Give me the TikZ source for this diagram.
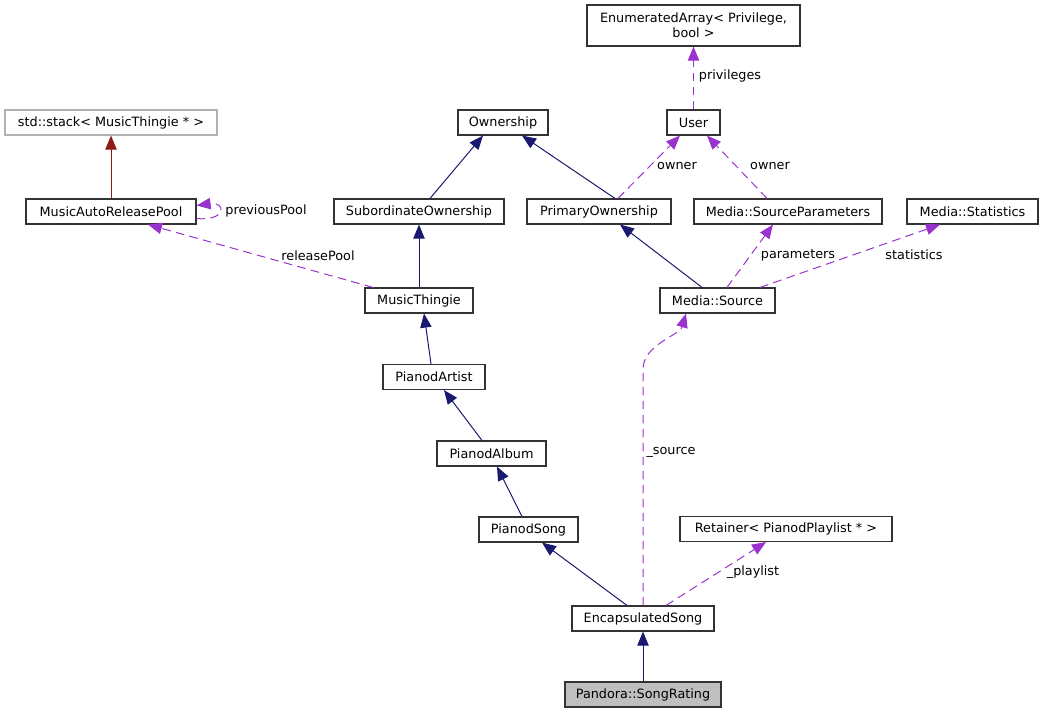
\documentclass[tikz,border=0pt]{standalone}
\usepackage{fontspec}
\setmainfont{DejaVu Sans}
\usetikzlibrary{arrows.meta,calc}
\definecolor{navyc}{HTML}{191970}
\definecolor{redc}{HTML}{8B1A1A}
\definecolor{purc}{HTML}{9A32CD}
\definecolor{boxc}{HTML}{333333}
\tikzset{
  cls/.style={draw=boxc,line width=0.85pt,fill=white,inner sep=0pt,minimum height=25*0.75pt,font=\fontsize{9.6pt}{11.3pt}\selectfont,align=center},
  extcls/.style={cls,draw=black!30},
  curcls/.style={cls,fill=black!25},
  tip/.style={-{Triangle[length=10.5pt,width=8.5pt]}},
  inh/.style={navyc,line width=0.75pt,tip},
  inhred/.style={redc,line width=0.75pt,tip},
  use/.style={purc,line width=0.75pt,dash pattern=on 6.5pt off 4pt,tip},
  lbl/.style={font=\fontsize{9.6pt}{11.3pt}\selectfont,inner sep=0pt}
}
\begin{document}
\begin{tikzpicture}[x=0.75pt,y=-0.75pt]
\useasboundingbox (0,0) rectangle (1043,713);
% nodes
\node[extcls,minimum width=212*0.75pt] (stack) at (111,122.5) {std::stack< MusicThingie * >};
\node[cls,minimum width=170*0.75pt] (pool) at (111,211.5) {MusicAutoReleasePool};
\node[cls,minimum width=213*0.75pt,minimum height=41*0.75pt] (enum) at (693.5,25.5) {EnumeratedArray< Privilege,\\bool >};
\node[cls,minimum width=53*0.75pt] (user) at (693.5,122.5) {User};
\node[cls,minimum width=90*0.75pt] (own) at (503,122.5) {Ownership};
\node[cls,minimum width=170*0.75pt] (sub) at (419,211.5) {SubordinateOwnership};
\node[cls,minimum width=144*0.75pt] (prim) at (599,211.5) {PrimaryOwnership};
\node[cls,minimum width=188*0.75pt] (srcp) at (788,211.5) {Media::SourceParameters};
\node[cls,minimum width=131*0.75pt] (stat) at (972.5,211.5) {Media::Statistics};
\node[cls,minimum width=115*0.75pt] (src) at (717.5,300.5) {Media::Source};
\node[cls,minimum width=108*0.75pt] (thing) at (419,300.5) {MusicThingie};
\node[cls,minimum width=102*0.75pt] (artist) at (434,377) {PianodArtist};
\node[cls,minimum width=109*0.75pt] (album) at (491.5,453.5) {PianodAlbum};
\node[cls,minimum width=99*0.75pt] (song) at (528.5,529.5) {PianodSong};
\node[cls,minimum width=212*0.75pt] (ret) at (786,529) {Retainer< PianodPlaylist * >};
\node[cls,minimum width=142*0.75pt] (enc) at (643,618.5) {EncapsulatedSong};
\node[curcls,minimum width=156*0.75pt] (rating) at (643,694.5) {Pandora::SongRating};
% inheritance
\draw[inhred] (pool.north) -- (stack.south);
\draw[inh] ($(sub.north)+(11,0)$) -- ($(own.south)+(-20,0)$);
\draw[inh] ($(prim.north)+(16,0)$) -- ($(own.south)+(19,0)$);
\draw[inh] (thing.north) -- (sub.south);
\draw[inh] ($(artist.north)+(-3,0)$) -- ($(thing.south)+(5,0)$);
\draw[inh] ($(album.north)+(-9.5,0)$) -- ($(artist.south)+(10,0)$);
\draw[inh] ($(song.north)+(-6.5,0)$) -- ($(album.south)+(5.5,0)$);
\draw[inh] ($(enc.north)+(-16,0)$) -- ($(song.south)+(13.5,0)$);
\draw[inh] (rating.north) -- (enc.south);
\draw[inh] ($(src.north)+(-15.5,0)$) -- ($(prim.south)+(21,0)$);
% usage
\draw[use] (user.north) -- (enum.south);
\node[lbl] (lpriv) at (730,76) {privileges};
\draw[use] ($(prim.north)+(19,0)$) -- ($(user.south)+(-13.5,0)$);
\node[lbl] (lown1) at (677,166) {owner};
\draw[use] ($(srcp.north)+(-21,0)$) -- ($(user.south)+(13.5,0)$);
\node[lbl] (lown2) at (770,166) {owner};
\draw[use] ($(thing.north)+(-46,0)$) -- ($(pool.south)+(37,0)$);
\node[lbl] (lrel) at (318,256) {releasePool};
\draw[use] ($(src.north)+(9.5,0)$) -- ($(srcp.south)+(-15,0)$);
\node[lbl] (lpar) at (798,255) {parameters};
\draw[use] ($(src.north)+(42.5,0)$) -- ($(stat.south)+(-32.5,0)$);
\node[lbl] (lstat) at (914,255) {statistics};
\draw[use] (enc.north) -- ++(0,-236) .. controls ++(0,-25) and ($(src.south)+(-38,22)$) .. ($(src.south)+(-31.5,0)$);
\node[lbl] (lsrc) at (671,452) {\_source};
\draw[use] ($(enc.north)+(23,0)$) -- ($(ret.south)+(-20,0)$);
\node[lbl] (lpl) at (753,572) {\_playlist};
\draw[use] ($(pool.east)+(0,7)$) .. controls ++(30,3) and ($(pool.east)+(30,-10)$) .. ($(pool.east)+(0,-6)$);
\node[lbl] (lprev) at (266,211) {previousPool};
\end{tikzpicture}
\end{document}
